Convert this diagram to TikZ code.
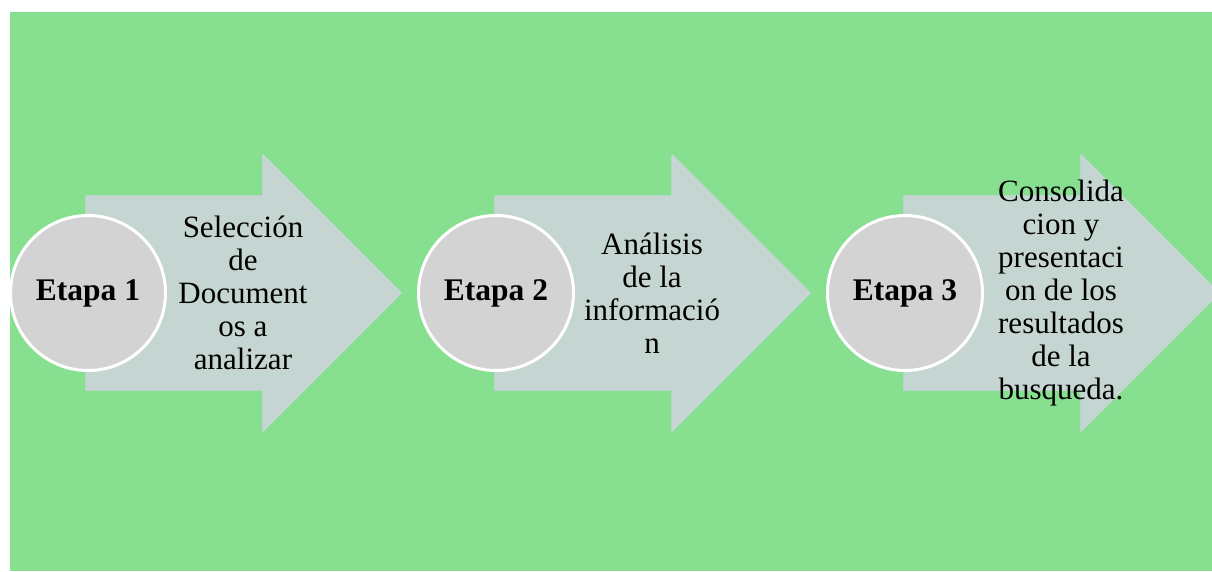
\documentclass[tikz,border=0pt]{standalone}
\usepackage{fontspec}
\setmainfont{Liberation Serif}
\definecolor{bggreen}{RGB}{134,224,144}
\definecolor{arrowfill}{RGB}{197,213,210}
\definecolor{arrowedge}{RGB}{206,212,220}
\definecolor{circfill}{RGB}{211,211,211}
\begin{document}
\begin{tikzpicture}[x=1pt,y=-1pt,
  stagearrow/.style={fill=arrowfill, draw=arrowedge, line width=1.2pt, line join=round},
  stagecircle/.style={circle, fill=circfill, draw=white, line width=3pt, minimum size=155pt, inner sep=0pt, font=\fontsize{31.5}{33}\selectfont\bfseries},
  stagetext/.style={align=center, inner sep=0pt, font=\fontsize{31}{33}\selectfont}]
\useasboundingbox (0,0) rectangle (1212,571);
\clip (0,0) rectangle (1212,571);
\fill[bggreen] (10,12) rectangle (1212,571);
\foreach \x in {86,495,904} {
  \draw[stagearrow] (\x,196) -- (\x+177,196) -- (\x+177,155) -- (\x+315,293)
     -- (\x+177,431) -- (\x+177,390) -- (\x,390) -- cycle;
}
\node[stagecircle] (c1) at (88,293) {Etapa 1};
\node[stagecircle] (c2) at (496,293) {Etapa 2};
\node[stagecircle] (c3) at (905,293) {Etapa 3};
\node[stagetext] (t1) at (243,293) {Selección\\de\\Document\\os a\\analizar};
\node[stagetext] (t2) at (652,293) {Análisis\\de la\\informació\\n};
\node[stagetext] (t3) at (1061,293) {Consolida\\cion y\\presentaci\\on de los\\resultados\\de la\\busqueda.};
\end{tikzpicture}
\end{document}
